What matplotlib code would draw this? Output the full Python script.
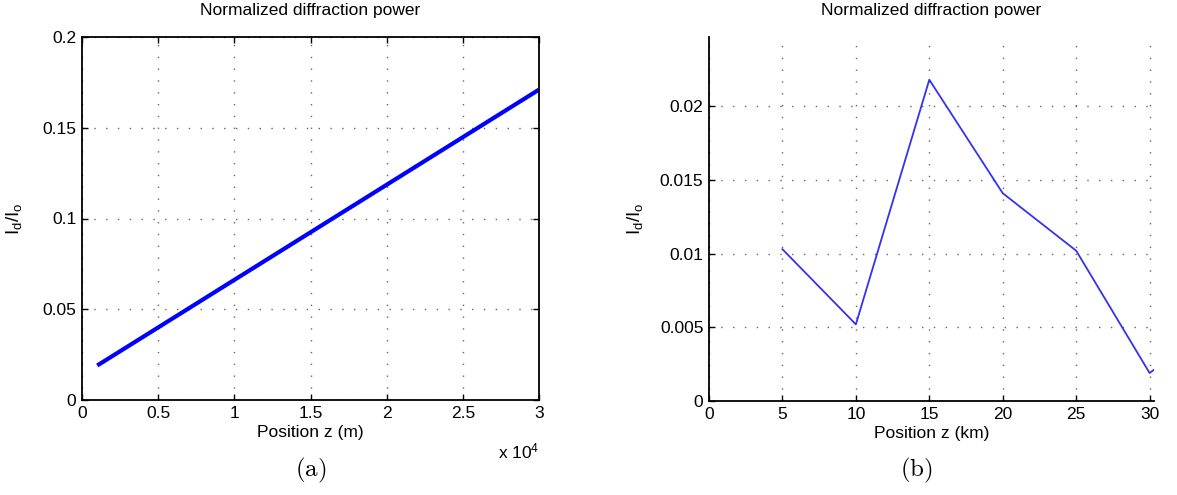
import matplotlib
matplotlib.use("Agg")
import matplotlib.pyplot as plt
from matplotlib.ticker import FuncFormatter

plt.rcParams['font.family'] = ['Liberation Sans', 'DejaVu Sans']
plt.rcParams['mathtext.fontset'] = 'custom'
plt.rcParams['mathtext.rm'] = 'Liberation Sans'
plt.rcParams['mathtext.it'] = 'Liberation Sans'

# Panel (a) data
z_a = [1000, 30000]
p_a = [0.019, 0.171]
xticks_a = [0, 5000, 10000, 15000, 20000, 25000, 30000]
yticks_a = [0, 0.05, 0.1, 0.15, 0.2]

# Panel (b) data
z_b = [5, 10, 15, 20, 25, 30, 30.27]
p_b = [0.0103, 0.0052, 0.0218, 0.0141, 0.0102, 0.0019, 0.0021]
xticks_b = [0, 5, 10, 15, 20, 25, 30]
yticks_b = [0, 0.005, 0.01, 0.015, 0.02]

W, H = 1177, 495
fig = plt.figure(figsize=(W/100, H/100), dpi=100)

def rect(l, t, r, b):
    return [l/W, 1 - b/H, (r-l)/W, (b-t)/H]

grid_kw = dict(linestyle=(0, (1, 7.5)), color='0.4', linewidth=1.0)
fs = 12.5

# ---- (a)
ax1 = fig.add_axes(rect(82, 37, 539, 400))
ax1.plot(z_a, p_a, color='#0000ff', linewidth=3, solid_capstyle='butt')
ax1.set_xlim(0, 30000)
ax1.set_ylim(0, 0.2)
ax1.set_xticks(xticks_a)
ax1.set_yticks(yticks_a)
ax1.xaxis.set_major_formatter(FuncFormatter(lambda v, p: f"{v/1e4:g}"))
ax1.yaxis.set_major_formatter(FuncFormatter(lambda v, p: f"{v:g}"))
ax1.grid(True, **grid_kw)
ax1.tick_params(direction='in', top=True, right=True, labelsize=fs, length=4, width=1, pad=4)
for s in ax1.spines.values():
    s.set_linewidth(1.3)
ax1.set_title('Normalized diffraction power', fontsize=fs, pad=16)
ax1.set_xlabel('Position z (m)', fontsize=fs, labelpad=3)
ax1.set_ylabel(r'I$_d$/I$_o$', fontsize=fs + 1, labelpad=13)
ax1.text(1.0, -0.115, r'x 10$^4$', transform=ax1.transAxes, ha='right', va='top', fontsize=fs)

# ---- (b)
ax2 = fig.add_axes(rect(709, 37, 1154, 401))
ax2.plot(z_b, p_b, color='#3333ee', linewidth=1.3)
ax2.set_xlim(0, 30.3)
ax2.set_ylim(0, 0.0247)
ax2.set_xticks(xticks_b)
ax2.set_yticks(yticks_b)
ax2.yaxis.set_major_formatter(FuncFormatter(lambda v, p: f"{v:g}"))
ax2.grid(True, **grid_kw)
ax2.tick_params(direction='in', labelsize=fs, length=4, width=1, pad=4)
ax2.spines['top'].set_visible(False)
ax2.spines['right'].set_visible(False)
for s in ('left', 'bottom'):
    ax2.spines[s].set_linewidth(1.3)
ax2.set_title('Normalized diffraction power', fontsize=fs, pad=16)
ax2.set_xlabel('Position z (km)', fontsize=fs, labelpad=3)
ax2.set_ylabel(r'I$_d$/I$_o$', fontsize=fs + 1, labelpad=11)

# captions
fig.text(311/W, 1 - 470/H, r'$\mathrm{(a)}$', fontsize=18, math_fontfamily='cm', ha='center', va='center')
fig.text(916/W, 1 - 470/H, r'$\mathrm{(b)}$', fontsize=18, math_fontfamily='cm', ha='center', va='center')

fig.savefig('out.png', dpi=100)
